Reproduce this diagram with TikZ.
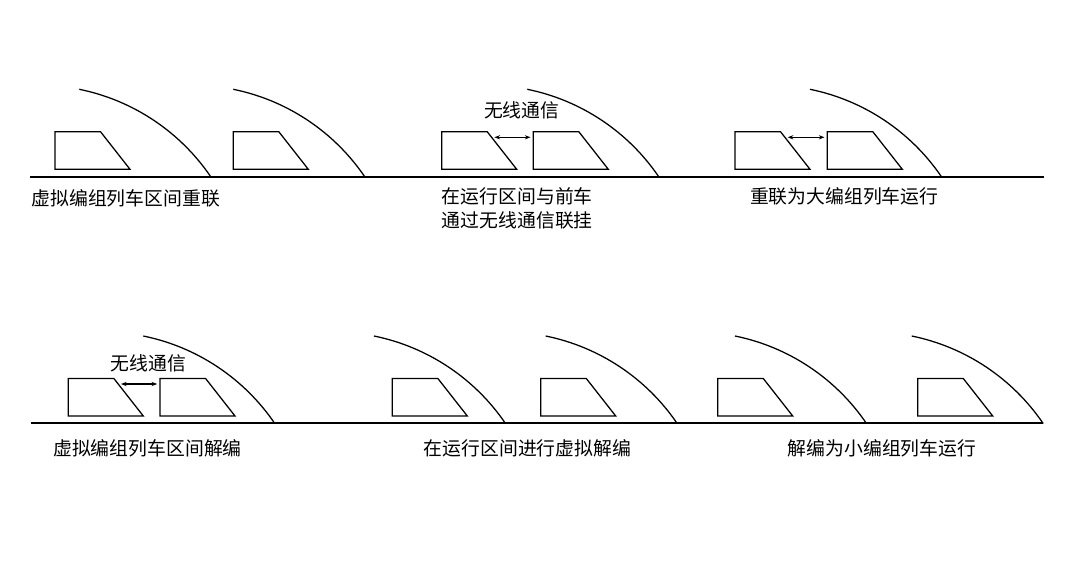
\documentclass[tikz,border=0pt]{standalone}
\usepackage{fontspec}
\setmainfont{Noto Sans CJK SC}
\usetikzlibrary{arrows.meta}

\begin{document}
\begin{tikzpicture}[x=0.025cm, y=0.025cm,
	rail/.style={line width=1.4pt},
	body/.style={line width=0.9pt, line join=miter},
	link/.style={line width=0.8pt, {Stealth[length=4pt,width=3pt]}-{Stealth[length=4pt,width=3pt]}, shorten <=2pt, shorten >=2pt},
	lbl/.style={font=\fontsize{13.4}{17}\selectfont, inner sep=0pt},
	train/.pic={
		\draw[body] (0,0) -- (75,0) -- (45.5,37.6) -- (0,37.6) -- cycle;
		\coordinate (-nose) at (49.9,32);
		\coordinate (-tail) at (0,32);
	},
	curve/.pic={
		\draw[body] (0,0) arc[start angle=78.5, end angle=34.2, radius=209.5];
	}]
	\useasboundingbox (0,0) rectangle (1080,575);
	
	% --- 上排: 虚拟重联 ---
	\draw[rail] (30,398.3) -- (1044,398.3);
	% 区间重联
	\pic (a1) at (55,405.7) {train};
	\pic at (79.3,485.7) {curve};
	\pic (a2) at (233.3,405.7) {train};
	\pic at (233.3,485.7) {curve};
	\node[lbl] (cap1) at (125.8,376.7) {虚拟编组列车区间重联};
	% 无线通信联挂
	\pic (a3) at (441.7,405.7) {train};
	\pic (a4) at (533.3,405.7) {train};
	\pic at (527.3,485.7) {curve};
	\draw[link] (a3-nose) -- (a4-tail);
	\node[lbl] (wl1) at (521.7,465) {无线通信};
	\node[lbl, anchor=west, align=left] (cap2) at (441.7,367) {在运行区间与前车\\通过无线通信联挂};
	% 大编组运行
	\pic (a5) at (735,405.7) {train};
	\pic (a6) at (827.3,405.7) {train};
	\pic at (810,485.7) {curve};
	\draw[link] (a5-nose) -- (a6-tail);
	\node[lbl] (cap3) at (844.3,378.3) {重联为大编组列车运行};
	
	% --- 下排: 虚拟解编 ---
	\draw[rail] (31,151.7) -- (1043,151.7);
	% 区间解编
	\pic (b1) at (68.3,159) {train};
	\pic (b2) at (160,159) {train};
	\pic at (143.3,239) {curve};
	\draw[link] (b1-nose) -- (b2-tail);
	\node[lbl] (wl2) at (148.3,211.7) {无线通信};
	\node[lbl] (cap4) at (147.5,126.7) {虚拟编组列车区间解编};
	% 运行中解编
	\pic (b3) at (392.3,159) {train};
	\pic at (374,239) {curve};
	\pic (b4) at (540.7,159) {train};
	\pic at (545.7,239) {curve};
	\node[lbl] (cap5) at (527.5,126.7) {在运行区间进行虚拟解编};
	% 小编组运行
	\pic (b5) at (717.7,159) {train};
	\pic at (735,239) {curve};
	\pic (b6) at (917.7,159) {train};
	\pic at (911.7,239) {curve};
	\node[lbl] (cap6) at (882,126.7) {解编为小编组列车运行};
\end{tikzpicture}
\end{document}
